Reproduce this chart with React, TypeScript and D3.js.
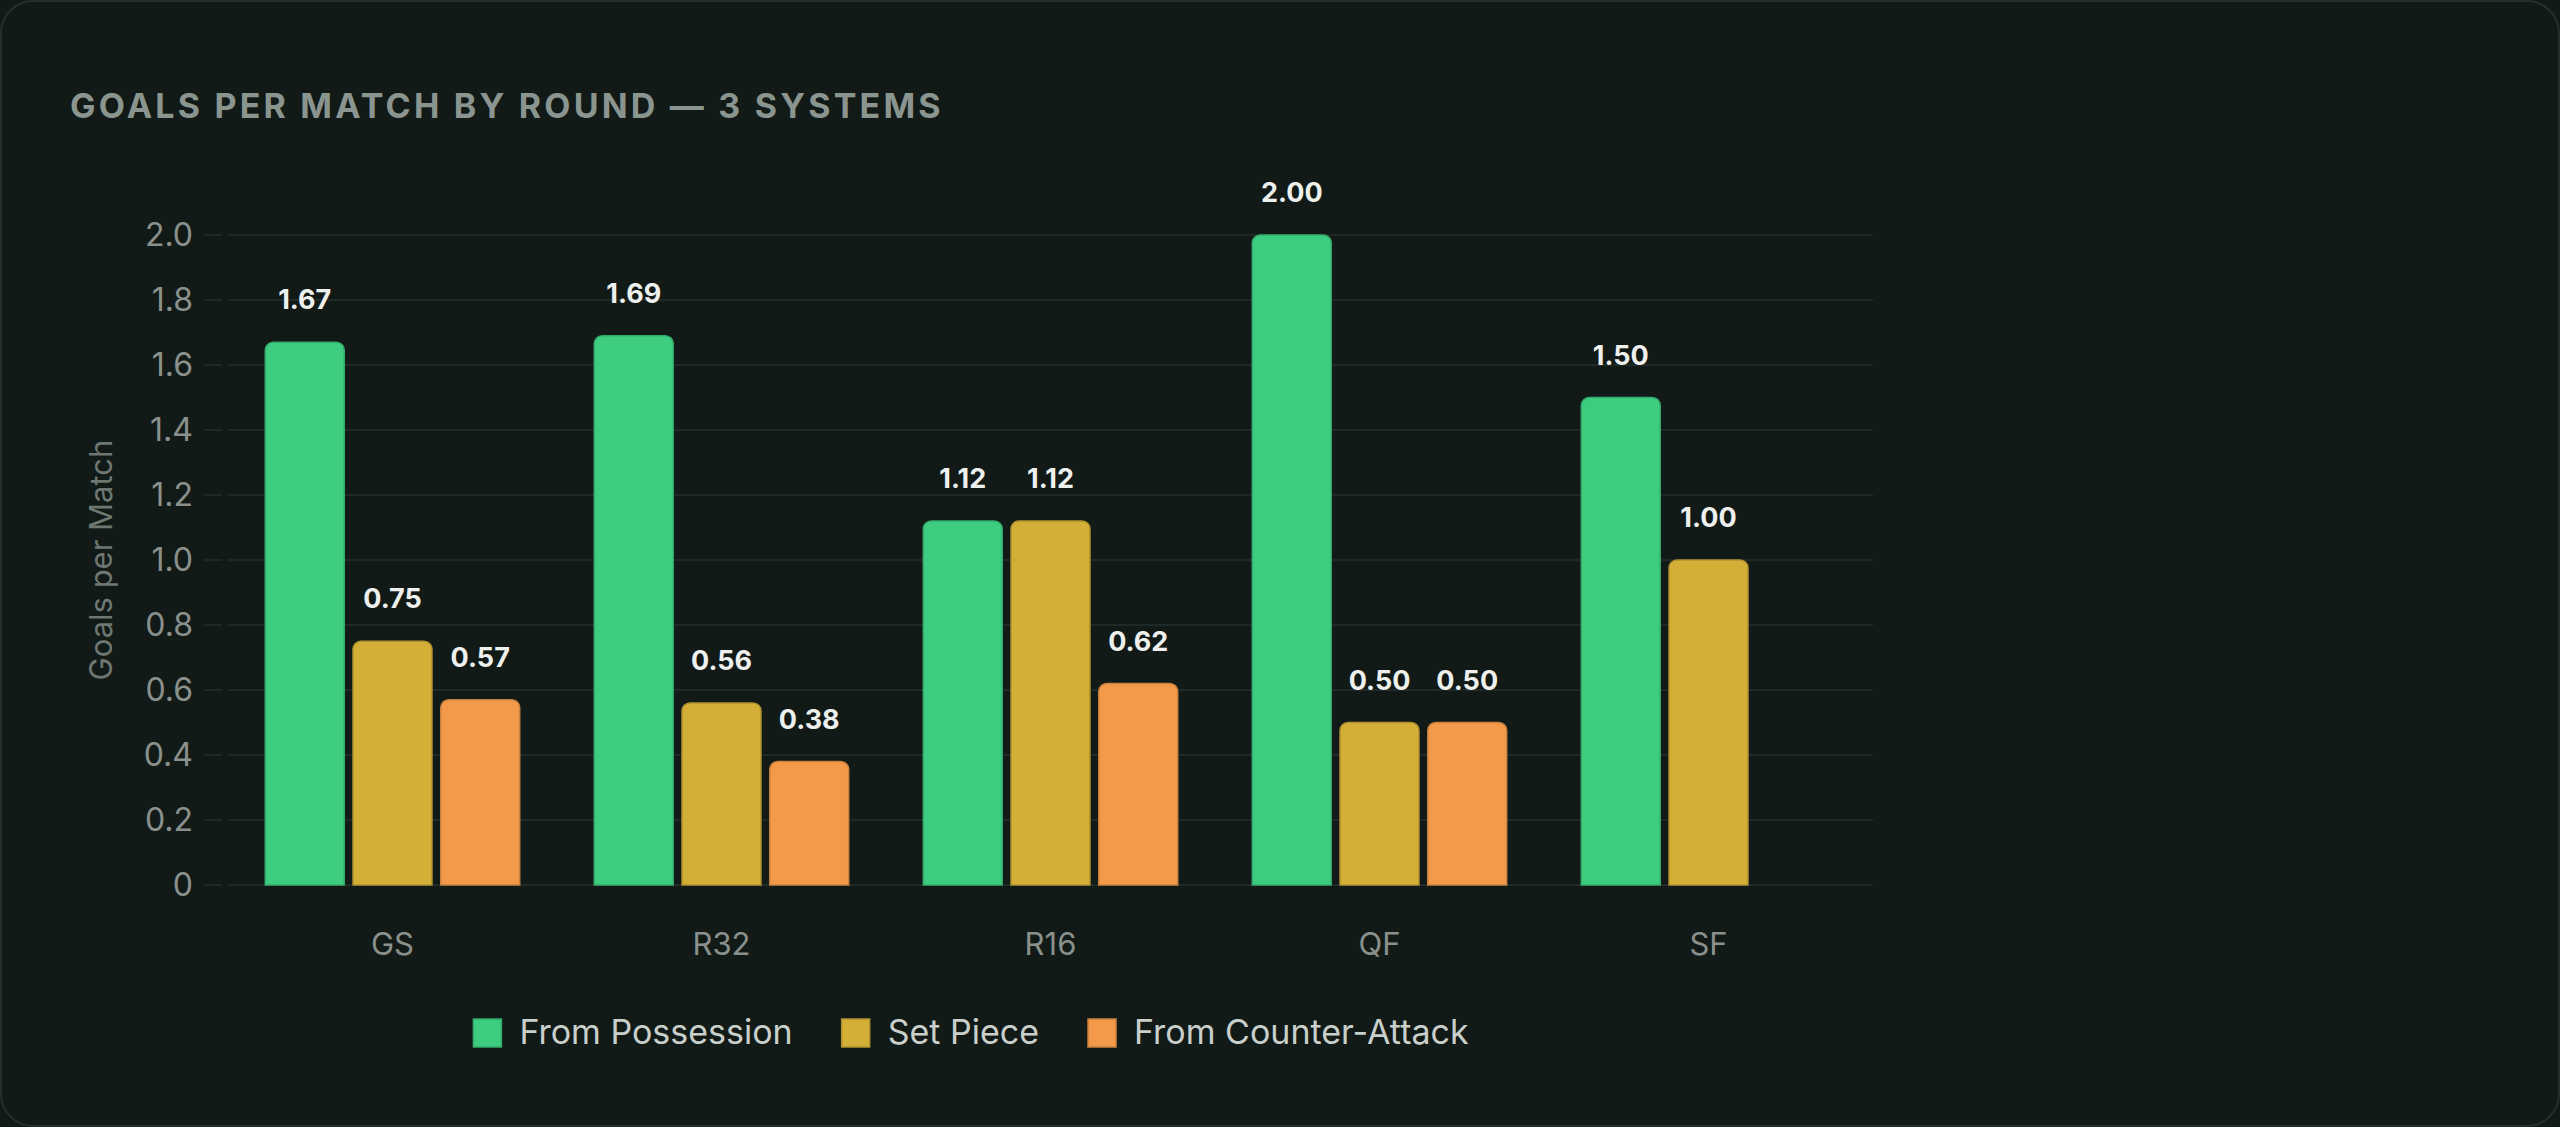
import React, { useEffect, useRef } from 'react';
import * as d3 from 'd3';

const rounds = ['GS', 'R32', 'R16', 'QF', 'SF'];
const seriesNames = ['From Possession', 'Set Piece', 'From Counter-Attack'];
const possession = [1.67, 1.69, 1.12, 2.0, 1.5];
const setPiece = [0.75, 0.56, 1.12, 0.5, 1.0];
const counterAttack: (number | null)[] = [0.57, 0.38, 0.62, 0.5, null];
const yTicks = [0, 0.2, 0.4, 0.6, 0.8, 1.0, 1.2, 1.4, 1.6, 1.8, 2.0];
const colors = ['#3ecc80', '#d4af37', '#f29a4a'];

const W = 2560;
const H = 1127;
const FONT = 'Inter, "Liberation Sans", sans-serif';

const App: React.FC = () => {
  const ref = useRef<SVGSVGElement>(null);

  useEffect(() => {
    if (!ref.current) return;
    const svg = d3.select(ref.current);
    svg.selectAll('*').remove();

    const margin = { top: 235, right: W - 1873, bottom: H - 885, left: 228 };
    const width = W - margin.left - margin.right;
    const height = H - margin.top - margin.bottom;

    // card
    svg
      .append('rect')
      .attr('x', 1)
      .attr('y', 1)
      .attr('width', W - 2)
      .attr('height', H - 2)
      .attr('rx', 32)
      .attr('fill', '#121a17')
      .attr('stroke', '#26302b')
      .attr('stroke-width', 2);

    svg
      .append('text')
      .attr('x', 70)
      .attr('y', 118)
      .text('GOALS PER MATCH BY ROUND — 3 SYSTEMS')
      .style('font-family', FONT)
      .style('font-weight', 700)
      .style('font-size', '34px')
      .style('letter-spacing', '3.2px')
      .style('fill', '#8b958f');

    const chart = svg
      .append('g')
      .attr('transform', `translate(${margin.left}, ${margin.top})`);

    const x0 = d3.scaleBand().domain(rounds).range([0, width]).padding(0);
    const inner = x0.bandwidth() * 0.8;
    const x1 = d3
      .scaleBand()
      .domain(seriesNames)
      .range([(x0.bandwidth() - inner) / 2, (x0.bandwidth() + inner) / 2])
      .paddingInner(0.1)
      .paddingOuter(0.05);
    const y = d3.scaleLinear().domain([0, 2]).range([height, 0]);

    // grid + ticks
    const yAxis = d3
      .axisLeft(y)
      .tickValues(yTicks)
      .tickSize(0)
      .tickPadding(35)
      .tickFormat((d) => (d === 0 ? '0' : d3.format('.1f')(d as number)));
    chart
      .append('g')
      .call(yAxis)
      .call((g) => g.select('.domain').remove())
      .call((g) =>
        g
          .selectAll('.tick text')
          .style('font-family', FONT)
          .style('font-size', '32px')
          .style('fill', '#8a918d')
      );

    chart
      .append('g')
      .selectAll('line.grid')
      .data(yTicks)
      .enter()
      .append('line')
      .attr('x1', 0)
      .attr('x2', width)
      .attr('y1', (d) => y(d))
      .attr('y2', (d) => y(d))
      .attr('stroke', '#1f2925')
      .attr('stroke-width', 2);
    chart
      .append('g')
      .selectAll('line.tick')
      .data(yTicks)
      .enter()
      .append('line')
      .attr('x1', -24)
      .attr('x2', -6)
      .attr('y1', (d) => y(d))
      .attr('y2', (d) => y(d))
      .attr('stroke', '#1f2925')
      .attr('stroke-width', 2);

    // x labels
    chart
      .append('g')
      .selectAll('text')
      .data(rounds)
      .enter()
      .append('text')
      .attr('x', (d) => x0(d)! + x0.bandwidth() / 2)
      .attr('y', height + 70)
      .attr('text-anchor', 'middle')
      .text((d) => d)
      .style('font-family', FONT)
      .style('font-size', '31px')
      .style('fill', '#8a918d');

    // y title
    svg
      .append('text')
      .attr('transform', `translate(112, ${margin.top + height / 2}) rotate(-90)`)
      .attr('text-anchor', 'middle')
      .text('Goals per Match')
      .style('font-family', FONT)
      .style('font-size', '31px')
      .style('fill', '#6f7772');

    const seriesValues = [possession, setPiece, counterAttack];
    const bars = rounds.flatMap((r, i) =>
      seriesNames.map((s, j) => ({ round: r, series: s, idx: j, value: seriesValues[j][i] }))
    ).filter((d) => d.value !== null) as { round: string; series: string; idx: number; value: number }[];

    const r = 8;
    const barPath = (d: { round: string; series: string; value: number }) => {
      const bx = x0(d.round)! + x1(d.series)!;
      const bw = x1.bandwidth();
      const top = y(d.value);
      const bottom = y(0);
      const p = d3.path();
      p.moveTo(bx, bottom);
      p.lineTo(bx, top + r);
      p.arcTo(bx, top, bx + r, top, r);
      p.lineTo(bx + bw - r, top);
      p.arcTo(bx + bw, top, bx + bw, top + r, r);
      p.lineTo(bx + bw, bottom);
      p.closePath();
      return p.toString();
    };

    chart
      .selectAll('.bar')
      .data(bars)
      .enter()
      .append('path')
      .attr('class', 'bar')
      .attr('d', barPath)
      .attr('fill', (d) => colors[d.idx])
      .attr('stroke', (d) => d3.color(colors[d.idx])!.darker(0.5).formatHex())
      .attr('stroke-width', 1.5);

    chart
      .selectAll('.label')
      .data(bars)
      .enter()
      .append('text')
      .attr('class', 'label')
      .attr('x', (d) => x0(d.round)! + x1(d.series)! + x1.bandwidth() / 2)
      .attr('y', (d) => y(d.value) - 33)
      .attr('text-anchor', 'middle')
      .text((d) => d.value.toFixed(2))
      .style('font-family', FONT)
      .style('font-weight', 700)
      .style('font-size', '27px')
      .style('fill', '#eef0ee');

    // legend
    const legend = svg.append('g');
    let cx = 0;
    seriesNames.forEach((s, i) => {
      const g = legend.append('g');
      g.append('rect')
        .attr('x', 0)
        .attr('y', -14)
        .attr('width', 28)
        .attr('height', 28)
        .attr('fill', colors[i])
        .attr('stroke', d3.color(colors[i])!.darker(0.5).formatHex())
        .attr('stroke-width', 1.5);
      const t = g
        .append('text')
        .attr('x', 46)
        .attr('y', 11)
        .text(s)
        .style('font-family', FONT)
        .style('font-size', '34px')
        .style('fill', '#c9cfcb');
      const tw = (t.node() as SVGTextElement).getComputedTextLength();
      g.attr('transform', `translate(${cx}, 0)`);
      cx += 46 + tw + 49;
    });
    const total = cx - 49;
    legend.attr('transform', `translate(${971 - total / 2}, 1033)`);
  }, []);

  return (
    <div style={{ position: 'fixed', left: 0, top: 0, background: '#121a17' }}>
      <svg ref={ref} width={W} height={H} style={{ display: 'block' }} />
    </div>
  );
};

export default App;
